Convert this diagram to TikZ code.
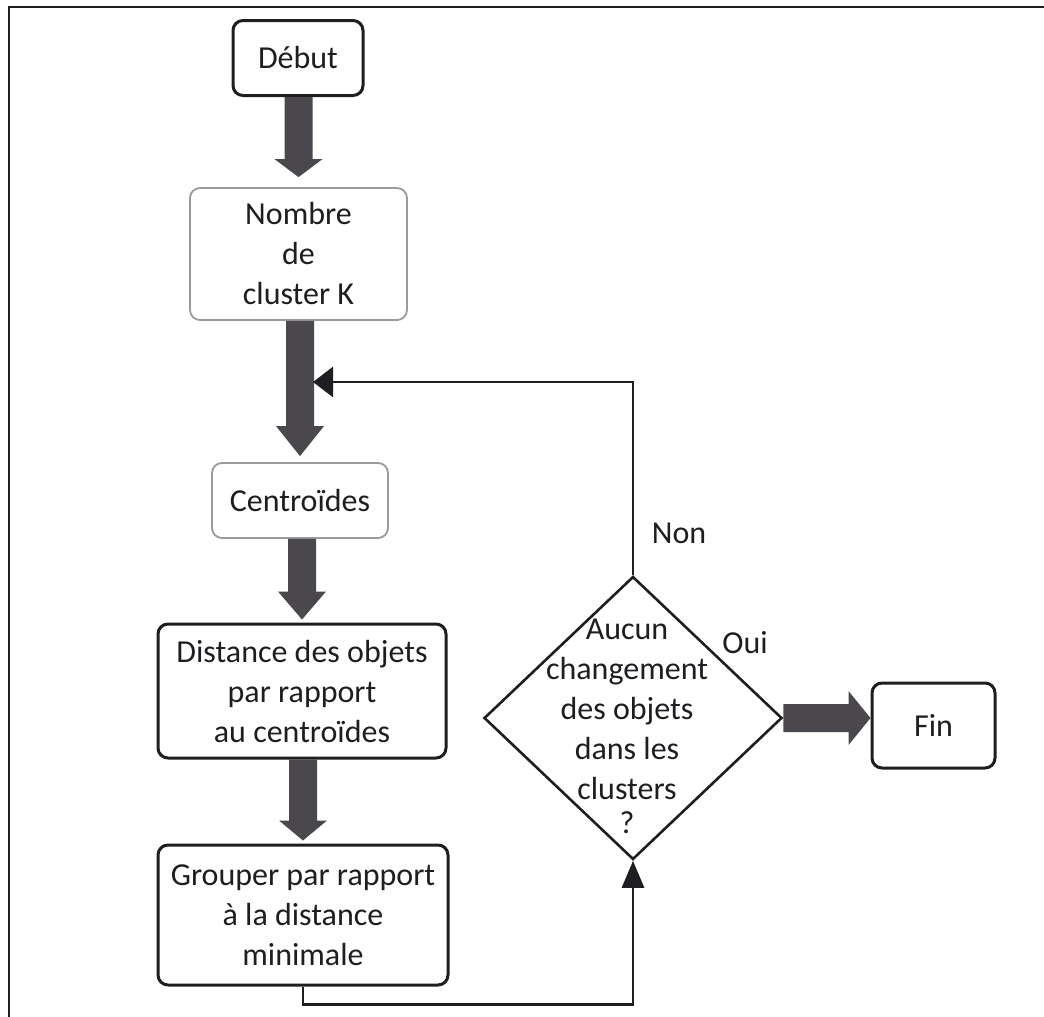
\documentclass[tikz,border=0pt]{standalone}
\usepackage{fontspec}
\setmainfont{Carlito}
\usetikzlibrary{shapes.geometric,arrows.meta,calc}
\definecolor{ink}{HTML}{1E1E22}
\definecolor{fatc}{HTML}{4A484D}
\definecolor{greyline}{HTML}{9A9A9E}
\newcommand\fatdown[4]{% from, to, head length, gap
  \fill[fatc] ($(#2.north |- #1.south)+(-14,0)$) -- ($(#2.north)+(-14,#3+#4)$) -- ($(#2.north)+(-24,#3+#4)$) -- ($(#2.north)+(0,#4)$) -- ($(#2.north)+(24,#3+#4)$) -- ($(#2.north)+(14,#3+#4)$) -- ($(#2.north |- #1.south)+(14,0)$) -- cycle;}
\begin{document}
\begin{tikzpicture}[x=1pt,y=1pt,
  txt/.style={font={\fontsize{32}{40}\selectfont}, text=ink, align=center},
  box/.style={txt, draw=ink, line width=3pt, rounded corners=10pt, fill=white, inner sep=0pt},
  greybox/.style={txt, draw=greyline, line width=1.8pt, rounded corners=10pt, fill=white, inner sep=0pt},
  conn/.style={draw=ink, line width=2.8pt}]
\useasboundingbox (0,0) rectangle (1044,-1017);
% frame
\draw[ink, line width=2pt] (9,-1017) -- (9,-7) -- (1044,-7);
% nodes
\node[box, minimum width=130pt, minimum height=75pt] (debut) at (298,-58) {Début};
\node[greybox, minimum width=217pt, minimum height=132pt] (nombre) at (298.5,-254) {Nombre\\de\\cluster K};
\node[greybox, minimum width=176pt, minimum height=75pt] (centro) at (300,-500.5) {Centroïdes};
\node[box, minimum width=288pt, minimum height=134pt] (dist) at (302,-691) {Distance des objets\\par rapport\\au centroïdes};
\node[box, minimum width=290pt, minimum height=140pt] (group) at (303,-915) {Grouper par rapport\\à la distance\\minimale};
\node[diamond, draw=ink, line width=2.6pt, minimum width=298pt, minimum height=283pt, inner sep=0pt] (diam) at (633,-718) {};
\node[txt, inner sep=0pt] (diamtext) at (627,-726) {Aucun\\changement\\des objets\\dans les\\clusters\\[-6pt]?};
\node[box, minimum width=123pt, minimum height=85pt] (fin) at (933.5,-725.5) {Fin};
\node[txt] (non) at (679,-533) {Non};
\node[txt] (oui) at (745,-643) {Oui};
% fat arrows
\fatdown{debut}{nombre}{18}{10}
\fatdown{nombre}{centro}{30}{6}
\fatdown{centro}{dist}{28}{3}
\fatdown{dist}{group}{20}{3}
\fill[fatc] ($(diam.east)+(0,14)$) -- ($(fin.west |- diam.east)+(-22,14)$) -- ($(fin.west |- diam.east)+(-22,27)$) -- (fin.west |- diam.east) -- ($(fin.west |- diam.east)+(-22,-27)$) -- ($(fin.west |- diam.east)+(-22,-14)$) -- ($(diam.east)+(0,-14)$) -- cycle;
% loop back connector
\coordinate (loopend) at (313,-382);
\draw[conn, -{Triangle[length=20pt,width=30pt]}] (diam.north) |- (loopend);
% bottom connector
\draw[conn, -{Triangle[length=27pt,width=22pt]}] (group.south) -- ++(0,-18) -| (diam.south);
\end{tikzpicture}
\end{document}
